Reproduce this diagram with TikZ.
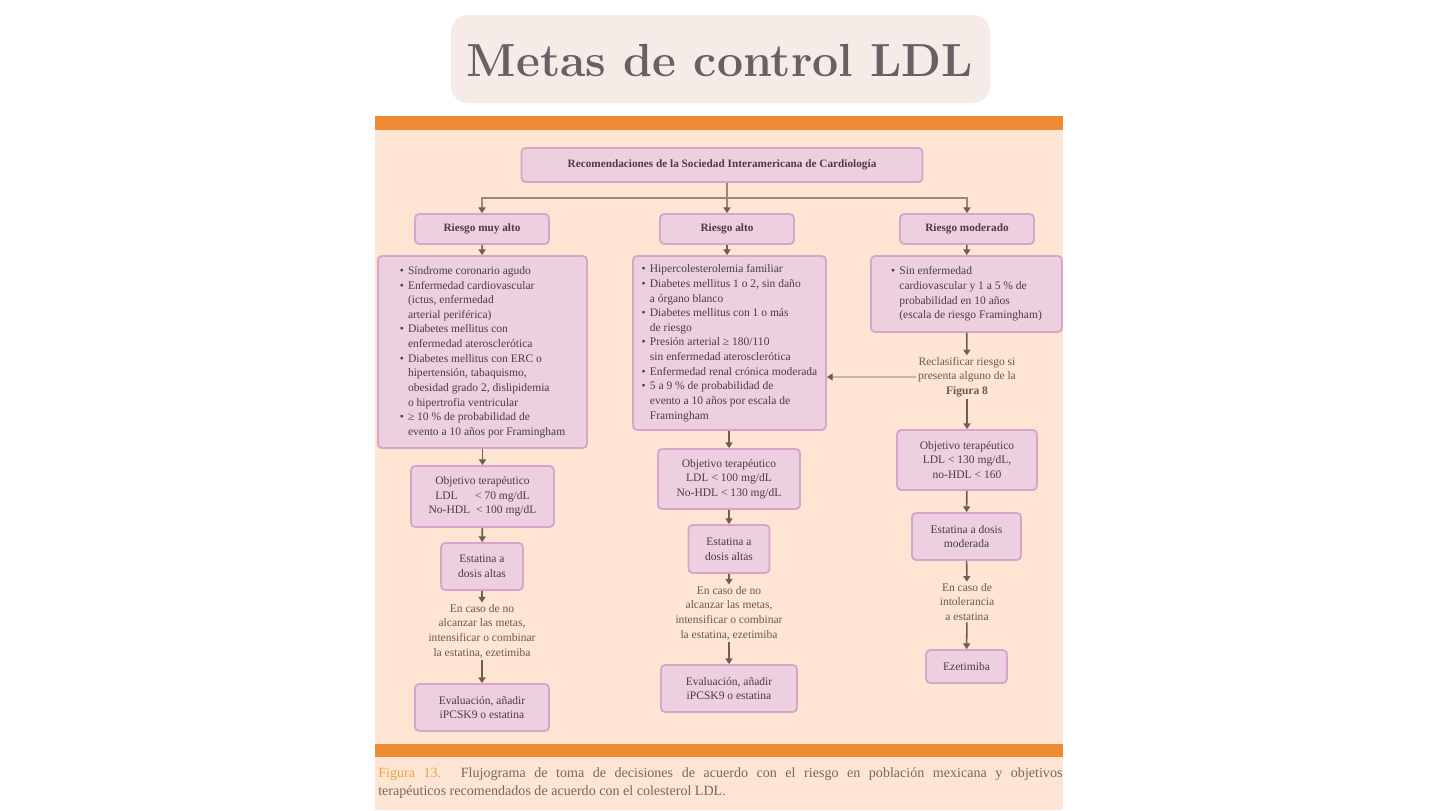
\documentclass[tikz,border=0pt]{standalone}
\usepackage{fontspec}
\newfontfamily\textofont{Liberation Serif}
\usetikzlibrary{arrows.meta}

\definecolor{fondotitulo}{HTML}{F7EBE7}
\definecolor{textotitulo}{HTML}{6B5F65}
\definecolor{fondopanel}{HTML}{FDE4D3}
\definecolor{naranja}{HTML}{EE8A32}
\definecolor{rellenocaja}{HTML}{EDD0E0}
\definecolor{bordecaja}{HTML}{D8A4CB}
\definecolor{textocaja}{HTML}{4A3B45}
\definecolor{textolibre}{HTML}{675D4A}
\definecolor{linea}{HTML}{958B76}
\definecolor{punta}{HTML}{6A6152}
\definecolor{lineatenue}{HTML}{C4B8AA}
\definecolor{dorado}{HTML}{E6A744}
\definecolor{textopie}{HTML}{76695F}

\tikzset{
  caja/.style={draw=bordecaja, fill=rellenocaja, line width=1.3pt, rounded corners=3pt,
    align=center, text=textocaja, inner sep=2pt,
    font=\textofont\fontsize{8.2}{10.4}\selectfont},
  cajanegrita/.style={caja, font=\textofont\bfseries\fontsize{8}{10}\selectfont},
  libre/.style={align=center, text=textolibre, inner sep=1pt,
    font=\textofont\fontsize{8.2}{10.4}\selectfont},
  conector/.style={draw=punta, line width=1.1pt, -{Triangle[length=4pt,width=5pt]}},
  rama/.style={draw=linea, line width=2pt},
}

\begin{document}
\begin{tikzpicture}[x=0.025cm,y=-0.025cm]
		%%%%% START %%%%%
		\useasboundingbox (0,0) rectangle (1440,810);
		\fill[white] (0,0) rectangle (1440,810);
		
		% titulo
		\fill[fondotitulo, rounded corners=12pt] (451,15) rectangle (990,103);
		\node[text=textotitulo, font=\bfseries\fontsize{33}{33}\selectfont] (titulo) at (720,61) {Metas de control LDL};
		
		% panel de la figura
		\fill[fondopanel] (375,118) rectangle (1063,810);
		\fill[naranja] (375,116) rectangle (1063,130);
		\fill[naranja] (375,744) rectangle (1063,757);
		
		% encabezado y niveles de riesgo
		\node[cajanegrita, minimum width=10.025cm, minimum height=0.85cm] (reco) at (722,165) {Recomendaciones de la Sociedad Interamericana de Cardiología};
		\node[cajanegrita, minimum width=3.35cm, minimum height=0.75cm] (muyalto) at (482,229) {Riesgo muy alto};
		\node[cajanegrita, minimum width=3.35cm, minimum height=0.75cm] (alto) at (727,229) {Riesgo alto};
		\node[cajanegrita, minimum width=3.35cm, minimum height=0.75cm] (moderado) at (967,229) {Riesgo moderado};
		
		\coordinate (nudo) at (727,198);
		\draw[rama] (reco.south -| nudo) -- (nudo);
		\draw[rama, -{Triangle[length=4pt,width=5pt,color=punta]}] (nudo) -| (muyalto.north);
		\draw[rama, -{Triangle[length=4pt,width=5pt,color=punta]}] (nudo) -| (moderado.north);
		\draw[rama, -{Triangle[length=4pt,width=5pt,color=punta]}] (nudo) -- (alto.north);
		
		% criterios
		\node[caja, minimum width=5.225cm, minimum height=4.8cm] (critA) at (482.5,352) {%
			\begin{tabular}{@{}l@{\hspace{3pt}}l@{}}
				\textbullet & Síndrome coronario agudo\\
				\textbullet & Enfermedad cardiovascular\\
				& (ictus, enfermedad\\
				& arterial periférica)\\
				\textbullet & Diabetes mellitus con\\
				& enfermedad aterosclerótica\\
				\textbullet & Diabetes mellitus con ERC o\\
				& hipertensión, tabaquismo,\\
				& obesidad grado 2, dislipidemia\\
				& o hipertrofia ventricular\\
				\textbullet & ≥ 10 \% de probabilidad de\\
				& evento a 10 años por Framingham
			\end{tabular}};
		\node[caja, minimum width=4.825cm, minimum height=4.35cm] (critB) at (729.5,343) {%
			\begin{tabular}{@{}l@{\hspace{3pt}}l@{}}
				\textbullet & Hipercolesterolemia familiar\\
				\textbullet & Diabetes mellitus 1 o 2, sin daño\\
				& a órgano blanco\\
				\textbullet & Diabetes mellitus con 1 o más\\
				& de riesgo\\
				\textbullet & Presión arterial ≥ 180/110\\
				& sin enfermedad aterosclerótica\\
				\textbullet & Enfermedad renal crónica moderada\\
				\textbullet & 5 a 9 \% de probabilidad de\\
				& evento a 10 años por escala de\\
				& Framingham
			\end{tabular}};
		\node[caja, minimum width=4.775cm, minimum height=1.9cm] (critC) at (966.5,294) {%
			\begin{tabular}{@{}l@{\hspace{3pt}}l@{}}
				\textbullet & Sin enfermedad\\
				& cardiovascular y 1 a 5 \% de\\
				& probabilidad en 10 años\\
				& (escala de riesgo Framingham)
			\end{tabular}};
		\node[libre] (reclas) at (967,377) {Reclasificar riesgo si\\presenta alguno de la\\\textbf{Figura 8}};
		
		\draw[conector] (muyalto) -- (critA);
		\draw[conector] (alto) -- (critB.north -| alto);
		\draw[conector] (moderado) -- (critC);
		\draw[conector] (critC) -- (reclas);
		\draw[draw=lineatenue, line width=0.8pt, -{Triangle[length=4pt,width=5pt,color=punta]}] (reclas.west) -- (reclas.west -| critB.east);
		
		% rama de riesgo muy alto
		\node[caja, minimum width=3.575cm, minimum height=1.525cm] (metaA) at (482.5,496.5) {Objetivo terapéutico\\LDL \hfill{} < 70 mg/dL\\No-HDL \hfill{} < 100 mg/dL};
		\node[caja, minimum width=2.05cm, minimum height=1.175cm] (estA) at (482,566.5) {Estatina a\\dosis altas};
		\node[libre] (casoA) at (482,631) {En caso de no\\alcanzar las metas,\\intensificar o combinar\\la estatina, ezetimiba};
		\node[caja, minimum width=3.35cm, minimum height=1.175cm] (evalA) at (482,707.5) {Evaluación, añadir\\iPCSK9 o estatina};
		\draw[conector] (critA) -- (metaA);
		\draw[conector] (metaA) -- (estA);
		\draw[conector] (estA) -- (casoA);
		\draw[conector] (casoA) -- (evalA);
		
		% rama de riesgo alto
		\node[caja, minimum width=3.55cm, minimum height=1.5cm] (metaB) at (729,479) {Objetivo terapéutico\\LDL < 100 mg/dL\\No-HDL < 130 mg/dL};
		\node[caja, minimum width=2.025cm, minimum height=1.2cm] (estB) at (729,549) {Estatina a\\dosis altas};
		\node[libre] (casoB) at (729,613) {En caso de no\\alcanzar las metas,\\intensificar o combinar\\la estatina, ezetimiba};
		\node[caja, minimum width=3.4cm, minimum height=1.175cm] (evalB) at (729,688.5) {Evaluación, añadir\\iPCSK9 o estatina};
		\draw[conector] (critB.south -| metaB) -- (metaB);
		\draw[conector] (metaB) -- (estB);
		\draw[conector] (estB) -- (casoB);
		\draw[conector] (casoB) -- (evalB);
		
		% rama de riesgo moderado
		\node[caja, minimum width=3.5cm, minimum height=1.5cm] (metaC) at (967,460) {Objetivo terapéutico\\LDL < 130 mg/dL,\\no-HDL < 160};
		\node[caja, minimum width=2.725cm, minimum height=1.175cm] (estC) at (966.5,536.5) {Estatina a dosis\\moderada};
		\node[libre] (casoC) at (967,602) {En caso de\\intolerancia\\a estatina};
		\node[caja, minimum width=2.025cm, minimum height=0.825cm] (ezeC) at (966.5,666.5) {Ezetimiba};
		\draw[conector] (reclas) -- (metaC);
		\draw[conector] (metaC) -- (estC);
		\draw[conector] (estC) -- (casoC);
		\draw[conector] (casoC) -- (ezeC);
		
		% pie de figura
		\node[anchor=north west, inner sep=0pt, align=left, text=textopie, font=\textofont\fontsize{10}{13}\selectfont] (pie) at (378,767) {\makebox[17.1cm][s]{\textcolor{dorado}{Figura 13.} Flujograma de toma de decisiones de acuerdo con el riesgo en población mexicana y objetivos}\\terapéuticos recomendados de acuerdo con el colesterol LDL.};
		
		%%%%% END %%%%%
	\end{tikzpicture}
\end{document}
